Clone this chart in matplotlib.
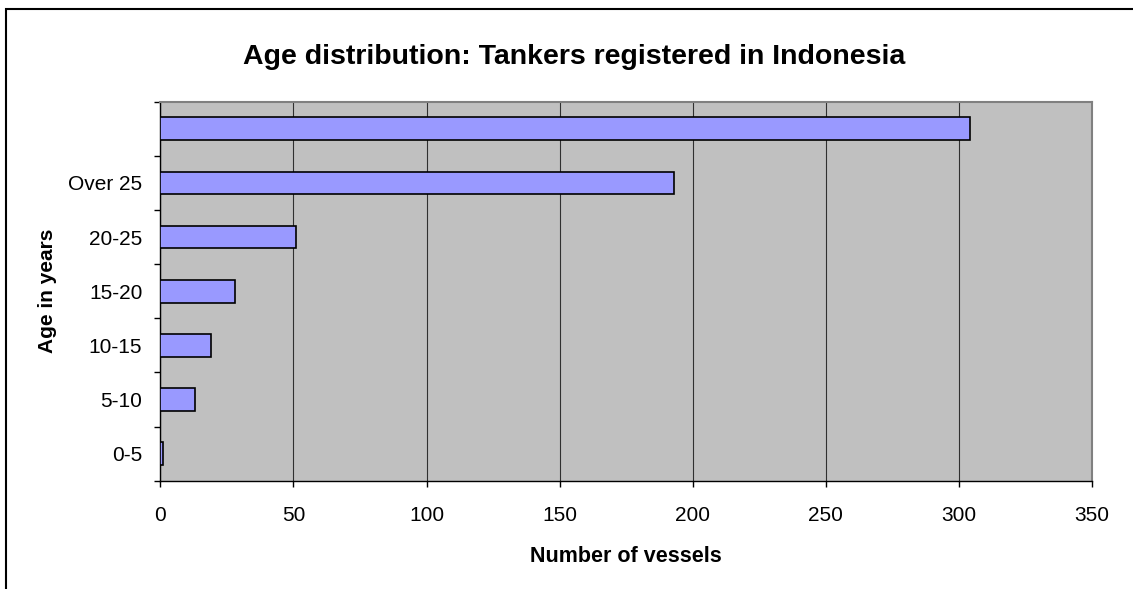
import numpy as np
import matplotlib.pyplot as plt
from matplotlib.patches import Rectangle

plt.rcParams['font.family'] = ['Liberation Sans', 'DejaVu Sans']

# Age bands (bottom to top) and vessel counts; top bar is the total
age_bands = ['0-5', '5-10', '10-15', '15-20', '20-25', 'Over 25', '']
vessels = [1, 13, 19, 28, 51, 193, 304]
x_ticks = [0, 50, 100, 150, 200, 250, 300, 350]

fig = plt.figure(figsize=(11.33, 5.89), dpi=100)
ax = fig.add_axes([0.1415, 0.1839, 0.8223, 0.6434])

# outer chart frame
fig.patches.append(Rectangle((6 / 1133, -0.1), 1.2, 1 - 9 / 589 + 0.1,
                             transform=fig.transFigure, fill=False,
                             edgecolor='black', linewidth=1.5))

ax.set_facecolor('#C0C0C0')
y = np.arange(len(age_bands))
ax.barh(y, vessels, height=0.42, color='#9999FF', edgecolor='black',
        linewidth=1.2, zorder=3)

ax.set_xlim(0, 350)
ax.set_ylim(-0.5, len(age_bands) - 0.5)
ax.set_xticks(x_ticks)
ax.xaxis.grid(True, color='#303030', linewidth=0.8, zorder=1)
ax.tick_params(axis='x', direction='out', length=4.5, width=1, pad=14,
               labelsize=15)

ax.set_yticks(y)
ax.set_yticklabels(age_bands)
ax.set_yticks(np.arange(-0.5, len(age_bands)), minor=True)
ax.tick_params(axis='y', which='major', length=0, pad=13, labelsize=15)
ax.tick_params(axis='y', which='minor', direction='out', length=4.5, width=1)

for side in ['left', 'bottom']:
    ax.spines[side].set_color('black')
    ax.spines[side].set_linewidth(1)
for side in ['top', 'right']:
    ax.spines[side].set_color('#808080')
    ax.spines[side].set_linewidth(1.5)

ax.set_title('Age distribution: Tankers registered in Indonesia',
             fontsize=20.5, fontweight='bold', pad=27, x=0.444)
ax.set_xlabel('Number of vessels', fontsize=15.5, fontweight='bold',
              labelpad=15)
ax.set_ylabel('Age in years', fontsize=15, fontweight='bold', labelpad=8)

fig.savefig('out.png', dpi=100)
